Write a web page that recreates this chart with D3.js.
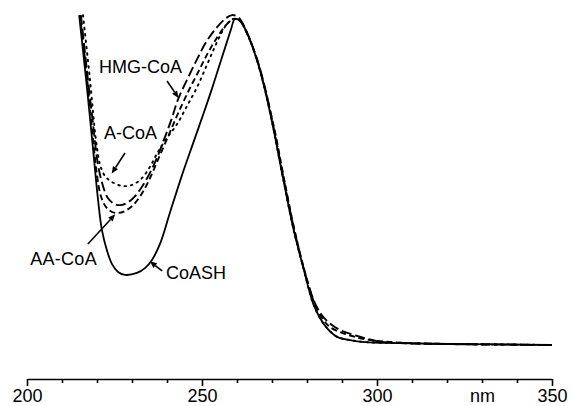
<!DOCTYPE html>
<html>
<head>
<meta charset="utf-8">
<script src="https://cdn.jsdelivr.net/npm/d3@7"></script>
<style>
  body { margin: 0; background: #fff; }
  svg { display: block; }
  .lbl { font-family: "Liberation Sans", Arial, sans-serif; font-size: 18px; fill: #000; }
</style>
</head>
<body>
<div id="chart"></div>
<script>
const w = 573;
const h = 406;

// wavelength (nm) / relative absorbance
const coashNm = [214.9, 216.9, 218.9, 220.3, 221.4, 222.9, 224.3, 226.0, 228.0, 231.4, 233.7, 235.7, 238.0, 240.9, 244.6, 247.4, 250.3, 252.9, 255.1, 257.1, 258.3, 259.4,
  260.9, 263.1, 265.7, 268.0, 270.3, 273.1, 276.0, 278.9, 281.7, 283.7, 285.7, 288.6, 292.3, 296.6, 306.6, 320.9, 335.0, 350.0];
const coashAbs = [1.012, 0.813, 0.598, 0.445, 0.353, 0.288, 0.248, 0.224, 0.215, 0.221, 0.236, 0.261, 0.310, 0.408, 0.531, 0.617, 0.706, 0.788, 0.862, 0.929, 0.969, 1.0,
  0.994, 0.951, 0.874, 0.782, 0.669, 0.515, 0.362, 0.239, 0.129, 0.083, 0.052, 0.025, 0.015, 0.009, 0.006, 0.003, 0.002, 0.0];

const acoaNm = [216.0, 218.0, 219.7, 220.9, 222.3, 224.3, 227.1, 230.0, 232.6, 235.1, 237.4, 240.0, 242.9, 245.7, 248.6, 251.4, 253.4, 255.4, 257.4, 259.4,
  260.9, 263.1, 265.7, 268.0, 270.3, 273.1, 276.0, 278.9, 281.7, 283.7, 285.7, 288.6, 292.3, 296.6, 306.6, 320.9, 335.0, 350.0];
const acoaAbs = [1.012, 0.813, 0.629, 0.552, 0.518, 0.500, 0.488, 0.491, 0.509, 0.546, 0.592, 0.635, 0.678, 0.733, 0.791, 0.859, 0.908, 0.954, 0.988, 1.0,
  0.994, 0.951, 0.874, 0.782, 0.669, 0.515, 0.362, 0.239, 0.129, 0.083, 0.052, 0.025, 0.015, 0.009, 0.006, 0.003, 0.002, 0.0];

const hmgNm = [215.4, 217.1, 218.9, 220.3, 221.7, 223.1, 224.9, 226.6, 228.6, 230.9, 233.7, 236.6, 239.1, 241.4, 243.1, 245.7, 248.6, 251.4, 254.3, 256.9, 258.6, 260.3,
  262.0, 264.3, 266.0, 268.3, 270.6, 273.4, 276.3, 279.1, 282.0, 284.0, 285.7, 289.4, 294.3, 300.0, 306.6, 320.9, 350.0];
const hmgAbs = [1.012, 0.844, 0.675, 0.552, 0.488, 0.451, 0.433, 0.429, 0.436, 0.457, 0.500, 0.561, 0.629, 0.696, 0.752, 0.813, 0.877, 0.933, 0.975, 1.003, 1.012, 1.006,
  0.979, 0.920, 0.868, 0.776, 0.660, 0.506, 0.356, 0.233, 0.135, 0.095, 0.074, 0.046, 0.028, 0.012, 0.006, 0.003, 0.0];

const aacoaNm = [215.1, 216.9, 218.6, 220.0, 221.1, 222.6, 224.3, 226.0, 228.0, 230.3, 232.9, 235.4, 238.0, 240.6, 243.1, 246.0, 248.9, 251.7, 254.6, 256.9, 258.9, 260.6,
  263.4, 266.0, 270.6, 273.4, 276.3, 279.1, 282.0, 284.3, 286.6, 290.9, 296.6, 303.7, 320.9, 350.0];
const aacoaAbs = [1.012, 0.844, 0.660, 0.521, 0.457, 0.423, 0.408, 0.405, 0.411, 0.429, 0.466, 0.518, 0.583, 0.647, 0.709, 0.776, 0.837, 0.896, 0.948, 0.982, 1.0, 0.997,
  0.942, 0.865, 0.666, 0.512, 0.359, 0.236, 0.132, 0.083, 0.055, 0.034, 0.018, 0.009, 0.003, 0.0];

const xTicks = d3.range(200, 351, 10);
const xLabels = { 200: "200", 250: "250", 300: "300", 330: "nm", 350: "350" };

// label text, label anchor, arrow tail, arrow head (nm, absorbance)
const notes = [
  { text: "HMG-CoA", at: [220.6, 0.834], from: [240.0, 0.810], to: [243.3, 0.758] },
  { text: "A-CoA", at: [222.0, 0.632], from: [228.0, 0.589], to: [224.2, 0.526] },
  { text: "AA-CoA", at: [200.9, 0.245], from: [217.4, 0.310], to: [225.2, 0.401] },
  { text: "CoASH", at: [239.7, 0.202], from: [238.6, 0.227], to: [235.1, 0.257] }
];

const series = [
  { name: "CoASH", nm: coashNm, abs: coashAbs, dash: null },
  { name: "A-CoA", nm: acoaNm, abs: acoaAbs, dash: "1.6,4.8" },
  { name: "HMG-CoA", nm: hmgNm, abs: hmgAbs, dash: "10,4" },
  { name: "AA-CoA", nm: aacoaNm, abs: aacoaAbs, dash: "6,3.5" }
];

const svg = d3.select("#chart").append("svg")
  .attr("width", w)
  .attr("height", h)
  .attr("viewBox", "0 0 " + w + " " + h);

const x = d3.scaleLinear().domain([200, 350]).range([27, 552]);
const y = d3.scaleLinear().domain([0, 1]).range([345, 19]);

const line = d3.line()
  .x((d) => x(d[0]))
  .y((d) => y(d[1]))
  .curve(d3.curveCatmullRom.alpha(0.5));

svg.append("g").selectAll("path")
  .data(series)
  .enter()
  .append("path")
  .attr("d", (s) => line(s.nm.map((v, i) => [v, s.abs[i]])))
  .attr("fill", "none")
  .attr("stroke", "#000")
  .attr("stroke-width", (s) => s.dash ? 1.9 : 1.8)
  .attr("stroke-linecap", (s) => s.name === "A-CoA" ? "round" : "butt")
  .attr("stroke-dasharray", (s) => s.dash);

// axis
const xAxis = d3.axisBottom(x)
  .tickValues(xTicks)
  .tickSizeInner(4)
  .tickSizeOuter(0)
  .tickPadding(6)
  .tickFormat((d) => xLabels[d] || "");

const gx = svg.append("g")
  .attr("transform", "translate(0,379)")
  .call(xAxis);

gx.select(".domain").attr("stroke-width", 1.7);
gx.selectAll(".tick line")
  .attr("stroke-width", 1.6)
  .attr("y2", (d) => d % 50 === 0 ? 7 : 4);
gx.selectAll(".tick text")
  .attr("class", "lbl")
  .attr("font-family", null)
  .attr("font-size", null)
  .attr("fill", null);

// annotations
const ann = svg.append("g");
ann.selectAll("text")
  .data(notes)
  .enter()
  .append("text")
  .attr("class", "lbl")
  .attr("x", (d) => x(d.at[0]))
  .attr("y", (d) => y(d.at[1]))
  .attr("letter-spacing", (d) => d.text === "AA-CoA" ? "0.3" : null)
  .text((d) => d.text);

const head = 7;
const half = 3;
ann.selectAll("g.arrow")
  .data(notes)
  .enter()
  .append("g")
  .attr("class", "arrow")
  .each(function (d) {
    const x1 = x(d.from[0]), y1 = y(d.from[1]);
    const x2 = x(d.to[0]), y2 = y(d.to[1]);
    const len = Math.hypot(x2 - x1, y2 - y1);
    const ux = (x2 - x1) / len, uy = (y2 - y1) / len;
    const bx = x2 - ux * head, by = y2 - uy * head;
    const g = d3.select(this);
    g.append("line")
      .attr("x1", x1).attr("y1", y1)
      .attr("x2", bx).attr("y2", by)
      .attr("stroke", "#000")
      .attr("stroke-width", 1.6);
    g.append("path")
      .attr("d", `M${x2},${y2}L${bx - uy * half},${by + ux * half}L${bx + uy * half},${by - ux * half}Z`)
      .attr("fill", "#000");
  });
</script>
</body>
</html>
